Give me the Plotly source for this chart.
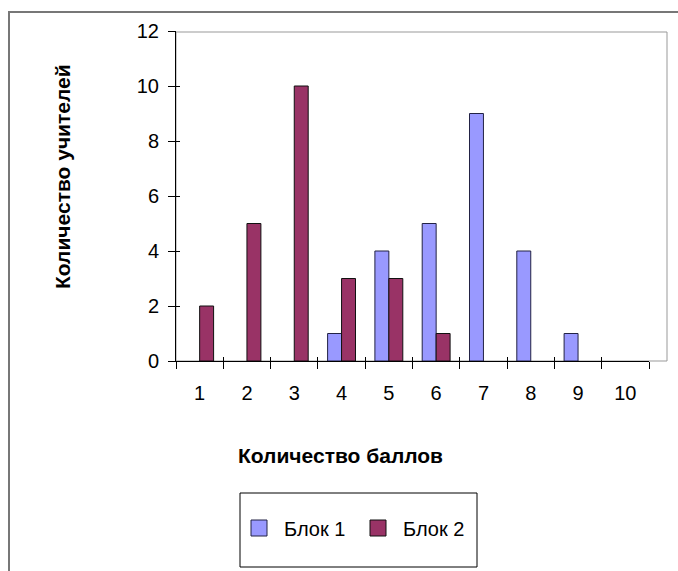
import plotly.graph_objects as go

categories = ["1", "2", "3", "4", "5", "6", "7", "8", "9", "10"]
blok1 = [0, 0, 0, 1, 4, 5, 9, 4, 1, 0]
blok2 = [2, 5, 10, 3, 3, 1, 0, 0, 0, 0]
series_names = ["Блок 1", "Блок 2"]
series_colors = ["#9999FF", "#993366"]
edge_colors = ["#222244", "#111111"]
y_ticks = [0, 2, 4, 6, 8, 10, 12]

FONT = "Liberation Sans, Arial, sans-serif"

def nz(vals):
    # zero-height bars are not drawn in the reference (no outline at zero)
    return [v if v != 0 else None for v in vals]

fig = go.Figure()
for vals, name, col, ec in zip([blok1, blok2], series_names, series_colors, edge_colors):
    fig.add_trace(go.Bar(x=categories, y=nz(vals), name=name, showlegend=False,
                         marker=dict(color=col, line=dict(color=ec, width=1))))
# legend proxies (larger square swatches, as in the reference)
for name, col, ec in zip(series_names, series_colors, edge_colors):
    fig.add_trace(go.Scatter(x=[categories[0]], y=[None], name=name, mode="markers",
                             marker=dict(symbol="square", size=20, color=col,
                                         line=dict(color=ec, width=1)),
                             hoverinfo="skip"))
# invisible helper trace for the inner half of the crossing tick marks
fig.add_trace(go.Scatter(x=categories, y=[None] * len(categories), xaxis="x2", yaxis="y2",
                         mode="markers", showlegend=False, hoverinfo="skip"))

L, R, T, B = 176, 29, 31, 210
W, H = 678, 571
pw, ph = W - L - R, H - T - B

def px(x):
    return (x - L) / pw

def py(y):
    return (H - B - y) / ph

fig.update_layout(
    width=W, height=H,
    margin=dict(l=L, r=R, t=T, b=B),
    paper_bgcolor="white", plot_bgcolor="rgba(0,0,0,0)",
    barmode="group", bargap=0.41, bargroupgap=0,
    font=dict(family=FONT, size=20, color="black"),
    showlegend=True,
    legend=dict(orientation="h", x=px(353), xanchor="center", y=py(528), yanchor="middle",
                bgcolor="rgba(0,0,0,0)", borderwidth=0, itemsizing="trace",
                font=dict(size=20, family=FONT), itemwidth=40, entrywidth=64),
    xaxis=dict(type="category", categoryarray=categories, tickson="boundaries",
               ticks="outside", ticklen=7,
               tickcolor="black", showline=True, linecolor="black", linewidth=1,
               showgrid=False, zeroline=False, ticklabelstandoff=14,
               tickfont=dict(size=20), range=[-0.5, 9.5]),
    yaxis=dict(range=[0, 12], tickvals=y_ticks, ticks="outside", ticklen=7,
               tickcolor="black", showline=True, linecolor="black", linewidth=1,
               showgrid=False, zeroline=False, ticklabelstandoff=5,
               tickfont=dict(size=20)),
    xaxis2=dict(type="category", categoryarray=categories, tickson="boundaries",
                overlaying="x", side="bottom", ticks="inside", ticklen=4, tickcolor="black",
                showticklabels=False, showline=False, showgrid=False, zeroline=False,
                range=[-0.5, 9.5]),
    yaxis2=dict(range=[0, 12], tickvals=y_ticks, overlaying="y", side="left",
                ticks="inside", ticklen=4, tickcolor="black", showticklabels=False,
                showline=False, showgrid=False, zeroline=False),
    shapes=[
        dict(type="rect", xref="paper", yref="paper", x0=0, x1=px(667), y0=0, y1=py(32),
             line=dict(color="#999999", width=1), layer="below"),
        dict(type="rect", xref="paper", yref="paper", x0=px(9), x1=px(700), y0=py(600), y1=py(12),
             line=dict(color="#777777", width=2), layer="below"),
        dict(type="rect", xref="paper", yref="paper", x0=px(240), x1=px(477), y0=py(567), y1=py(493),
             line=dict(color="black", width=1), fillcolor="white", layer="below"),
    ],
    annotations=[
        dict(text="<b>Количество учителей</b>", xref="paper", yref="paper",
             x=px(62), y=py(177), textangle=-90, showarrow=False,
             font=dict(size=21, family=FONT), xanchor="center", yanchor="middle"),
        dict(text="<b>Количество баллов</b>", xref="paper", yref="paper",
             x=px(340), y=py(455), showarrow=False,
             font=dict(size=21, family=FONT), xanchor="center", yanchor="middle"),
    ],
)

fig.write_html("out.html", config={"displayModeBar": False},
               post_script="document.body.style.margin='0';document.body.style.padding='0';")
